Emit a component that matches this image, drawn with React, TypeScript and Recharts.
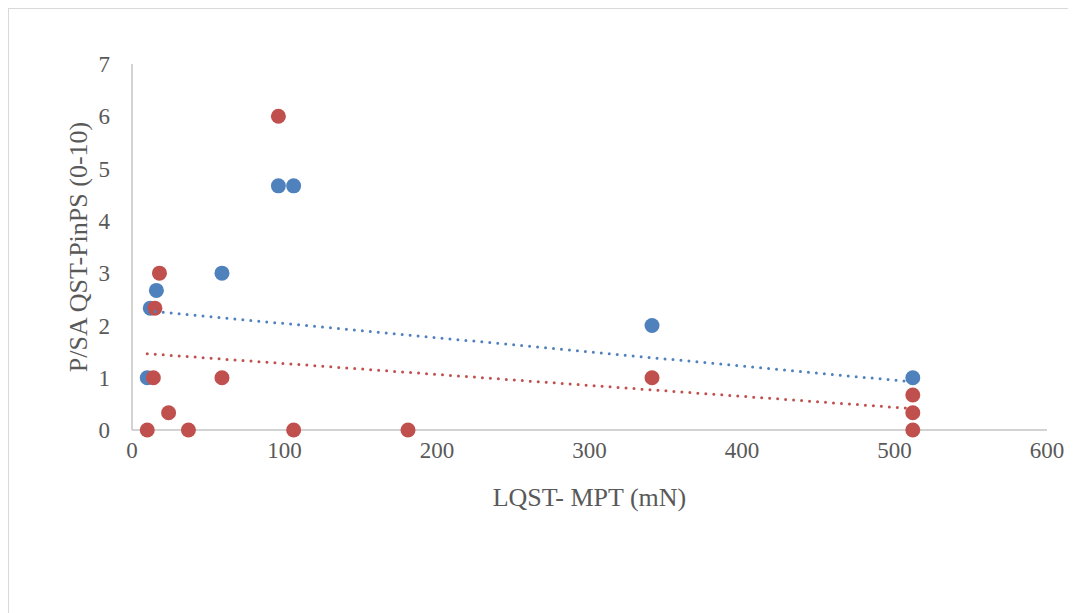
import { Label, Scatter, ScatterChart, XAxis, YAxis } from "recharts";

// PinPS ratings against MPT, two series with their dotted linear trendlines.
const blueX = [10, 12, 16, 59, 96, 106, 341, 512];
const blueY = [1, 2.33, 2.67, 3, 4.67, 4.67, 2, 1];
const redX = [10, 14, 15, 18, 24, 37, 59, 96, 106, 181, 341, 512, 512, 512];
const redY = [0, 1, 2.33, 3, 0.33, 0, 1, 6, 0, 0, 1, 0.67, 0.33, 0];

// trendline end points as they sit in the picture
const blueTrendX = [10, 512];
const blueTrendY = [2.28, 0.92];
const redTrendX = [10, 512];
const redTrendY = [1.46, 0.41];

const xTicks = [0, 100, 200, 300, 400, 500, 600];
const yTicks = [0, 1, 2, 3, 4, 5, 6, 7];

const BLUE = "#4f81bd";
const RED = "#c0504d";
const AXIS = "#c4c4c4";
const TEXT = "#595959";
const FONT = "'Liberation Serif', 'Times New Roman', serif";

const zip = (xs: number[], ys: number[]) => xs.map((x, i) => ({ x, y: ys[i] }));

const blue = zip(blueX, blueY);
const red = zip(redX, redY);
const blueTrend = zip(blueTrendX, blueTrendY);
const redTrend = zip(redTrendX, redTrendY);

const dot = (fill: string) => (props: any) => (
  <circle cx={props.cx} cy={props.cy} r={7.5} fill={fill} />
);
const none = () => <g />;

export default function App() {
  const tick = { fontSize: 23, fill: TEXT, fontFamily: FONT };
  const title = { fontSize: 26, fill: TEXT, fontFamily: FONT };
  return (
    <div
      style={{
        width: 1067,
        height: 604,
        borderLeft: "1px solid #d9d9d9",
        borderTop: "1px solid #d9d9d9",
        background: "#fff",
      }}
    >
      <ScatterChart
        width={1067}
        height={604}
        margin={{ top: 55, right: 29, bottom: 49, left: 15 }}
      >
        <XAxis
          type="number"
          dataKey="x"
          domain={[0, 600]}
          ticks={xTicks}
          tickLine={false}
          tickMargin={6}
          axisLine={{ stroke: AXIS, strokeWidth: 1.5 }}
          tick={tick}
          height={134}
        >
          <Label value="LQST- MPT (mN)" position="center" style={title} />
        </XAxis>
        <YAxis
          type="number"
          dataKey="y"
          domain={[0, 7]}
          ticks={yTicks}
          tickLine={false}
          tickMargin={16}
          axisLine={{ stroke: AXIS, strokeWidth: 1.5 }}
          tick={tick}
          width={108}
        >
          <Label
            value="P/SA QST-PinPS (0-10)"
            position="center"
            angle={-90}
            style={title}
          />
        </YAxis>
        <Scatter data={blue} shape={dot(BLUE)} isAnimationActive={false} />
        <Scatter data={red} shape={dot(RED)} isAnimationActive={false} />
        <Scatter
          data={blueTrend}
          shape={none}
          line={{ stroke: BLUE, strokeWidth: 3, strokeDasharray: "0 8", strokeLinecap: "round" }}
          isAnimationActive={false}
        />
        <Scatter
          data={redTrend}
          shape={none}
          line={{ stroke: RED, strokeWidth: 3, strokeDasharray: "0 8", strokeLinecap: "round" }}
          isAnimationActive={false}
        />
      </ScatterChart>
    </div>
  );
}
